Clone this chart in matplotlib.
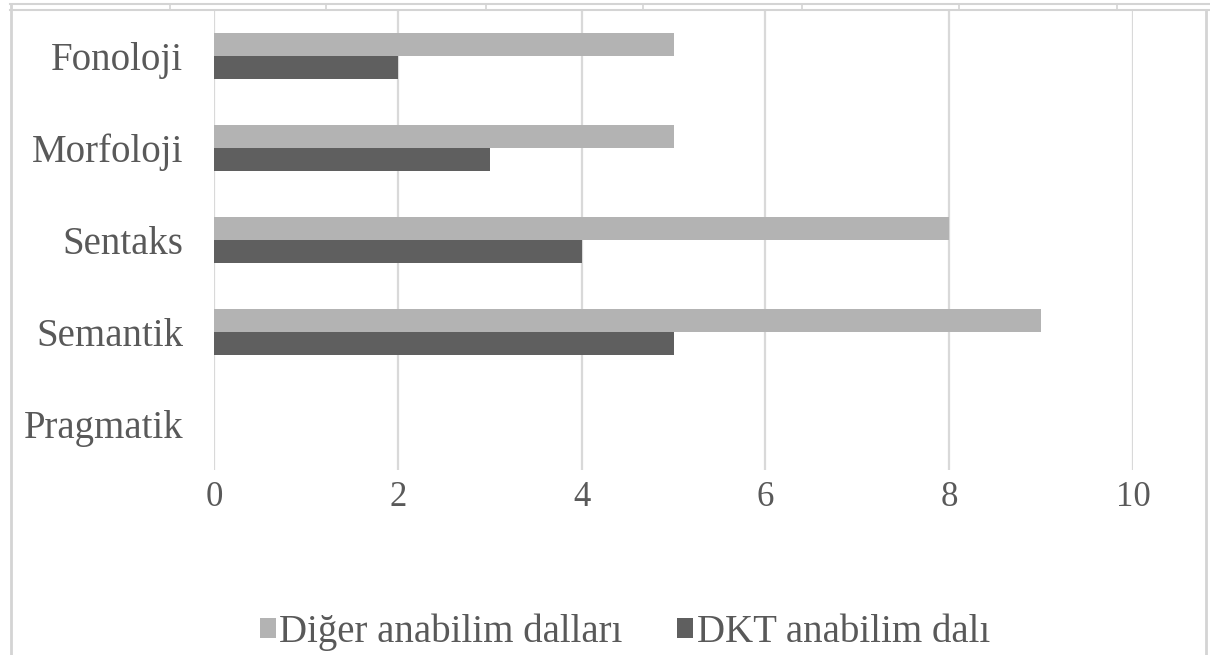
import matplotlib
matplotlib.use("Agg")
import matplotlib.pyplot as plt
from matplotlib.lines import Line2D
from matplotlib.patches import Patch

plt.rcParams['font.family'] = ['Liberation Serif', 'DejaVu Serif']

categories = ['Fonoloji', 'Morfoloji', 'Sentaks', 'Semantik', 'Pragmatik']
diger = [5, 5, 8, 9, 0]
dkt = [2, 3, 4, 5, 0]
series_names = ['Diğer anabilim dalları', 'DKT anabilim dalı']
xticks = [0, 2, 4, 6, 8, 10]

W, H = 1210, 655
light = '#b3b3b3'
dark = '#5f5f5f'
grid = '#d9d9d9'
txt = '#595959'

fig = plt.figure(figsize=(W / 100, H / 100), dpi=100)
fig.patch.set_facecolor('white')


def px(x, y):
    return x / W, 1 - y / H


# axes area in pixel terms
l, r, t, b = 214, 1133, 10, 470
ax = fig.add_axes([l / W, 1 - b / H, (r - l) / W, (b - t) / H])

ypos = list(range(len(categories)))
bh = 0.25
ax.barh([y - bh / 2 for y in ypos], diger, height=bh, color=light, zorder=3)
ax.barh([y + bh / 2 for y in ypos], dkt, height=bh, color=dark, zorder=3)

ax.set_xlim(0, 10)
ax.set_ylim(len(categories) - 0.5, -0.5)
ax.set_xticks(xticks)
ax.set_xticklabels([str(v) for v in xticks])
ax.set_yticks(ypos)
ax.set_yticklabels(categories)
ax.tick_params(axis='y', length=0, pad=22, labelsize=28, labelcolor=txt)
ax.tick_params(axis='x', length=0, pad=8, labelsize=25, labelcolor=txt)
ax.grid(axis='x', color=grid, lw=1.6, zorder=0)
for s in ax.spines.values():
    s.set_visible(False)

# legend below the plot
handles = [Patch(facecolor=light, edgecolor='none'),
           Patch(facecolor=dark, edgecolor='none')]
fig.legend(handles, series_names, loc='center',
           bbox_to_anchor=px(625, 632), ncol=2, frameon=False,
           fontsize=28, labelcolor=txt, handlelength=0.4, handleheight=0.4,
           handletextpad=0.1, columnspacing=1.4)

# chart border and the thin strip along the top
bc = '#d4d4d4'
fig.add_artist(Line2D(*zip(px(10, 3.5), px(1210, 3.5)), transform=fig.transFigure, color=bc, lw=1.5))
fig.add_artist(Line2D(*zip(px(10, 9.5), px(1210, 9.5)), transform=fig.transFigure, color=bc, lw=1.5))
for xs in [170, 326, 486, 643, 802, 959, 1117]:
    fig.add_artist(Line2D(*zip(px(xs, 3.5), px(xs, 9.5)), transform=fig.transFigure, color=bc, lw=1.2))
fig.add_artist(Line2D(*zip(px(10.5, 3.5), px(10.5, 655)), transform=fig.transFigure, color=bc, lw=2))
fig.add_artist(Line2D(*zip(px(1206, 9.5), px(1206, 655)), transform=fig.transFigure, color=bc, lw=2))

fig.savefig('out.png', dpi=100)
